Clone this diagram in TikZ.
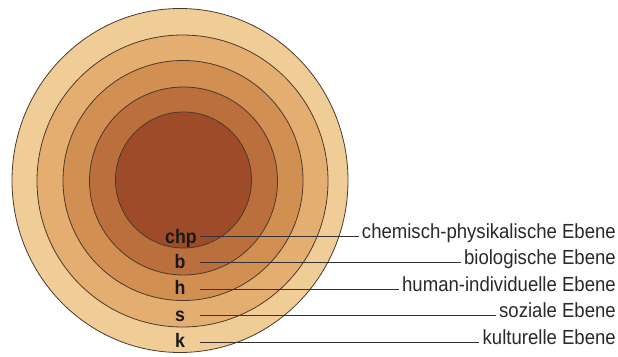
\documentclass[tikz,border=0pt]{standalone}
\usepackage{fontspec}
\setmainfont{Liberation Sans}
\newfontfamily\condfont[FakeStretch=0.91]{Liberation Sans}
\definecolor{ringA}{HTML}{F0CC97}
\definecolor{ringB}{HTML}{E4AE70}
\definecolor{ringC}{HTML}{D19052}
\definecolor{ringD}{HTML}{BB6F3C}
\definecolor{ringE}{HTML}{9E4B2A}
\definecolor{edgecol}{HTML}{4A3A2C}
\definecolor{txtcol}{HTML}{2A2A2A}
\tikzset{
  ring/.style={draw=edgecol,line width=0.8pt},
  lvl/.style={font=\condfont\fontsize{19.5}{20}\selectfont\bfseries,text=black!90,inner sep=0pt,anchor=base},
  desc/.style={font=\condfont\fontsize{20.4}{21}\selectfont,text=txtcol,inner ysep=0pt,inner xsep=3pt,anchor=mid east},
  conn/.style={draw=black!80,line width=0.7pt}
}
\begin{document}
\begin{tikzpicture}[x=1pt,y=-1pt]
\useasboundingbox (0,0) rectangle (618,356);
\fill[white] (0,0) rectangle (618,356);
% rings
\draw[ring,fill=ringA] (180,180.5) ellipse [x radius=168,y radius=172];
\draw[ring,fill=ringB] (182.5,181) ellipse [x radius=145.5,y radius=146];
\draw[ring,fill=ringC] (183,180.5) circle [radius=120];
\draw[ring,fill=ringD] (183.5,181) circle [radius=94];
\draw[ring,fill=ringE] (183.5,180) circle [radius=68];
% level letters
\node[lvl] (chp) at (181,243) {chp};
\node[lvl] (b) at (180,268) {b};
\node[lvl] (h) at (180,294) {h};
\node[lvl] (s) at (180,321) {s};
\node[lvl] (k) at (180,347) {k};
% start points of connectors
\coordinate (c1) at (200,236);
\coordinate (c2) at (200,262);
\coordinate (c3) at (200,289);
\coordinate (c4) at (200,315);
\coordinate (c5) at (200,342);
% descriptions
\node[desc] (t1) at (619,236) {chemisch-physikalische Ebene};
\node[desc] (t2) at (619,262) {biologische Ebene};
\node[desc] (t3) at (619,289) {human-individuelle Ebene};
\node[desc] (t4) at (619,315) {soziale Ebene};
\node[desc] (t5) at (619,342) {kulturelle Ebene};
% connectors
\draw[conn] (c1) -- (t1.mid west);
\draw[conn] (c2) -- (t2.mid west);
\draw[conn] (c3) -- (t3.mid west);
\draw[conn] (c4) -- (t4.mid west);
\draw[conn] (c5) -- (t5.mid west);
\end{tikzpicture}
\end{document}
